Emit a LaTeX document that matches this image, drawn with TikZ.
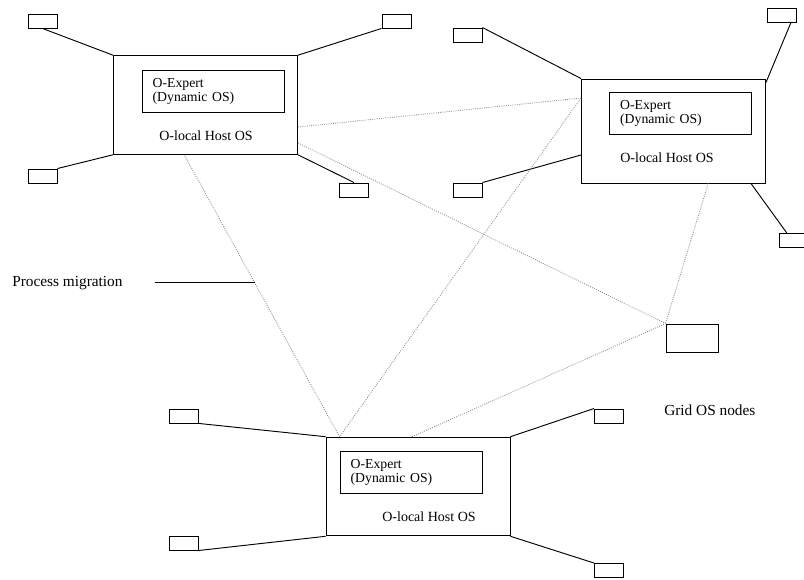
\documentclass[tikz,border=0pt]{standalone}
\usepackage{fontspec}
\setmainfont{Liberation Serif}
\usepackage{tikz}
\usetikzlibrary{calc, positioning}
\tikzset{
    host/.style={rectangle, draw=black, line width=0.7pt, minimum width=138pt, minimum height=74pt, inner sep=0pt},
    expert/.style={rectangle, draw=black, line width=0.7pt, minimum width=106.5pt, minimum height=31.5pt, inner xsep=8pt, text width=90.5pt, align=left, font=\fontsize{10.3}{10.5}\selectfont},
    leaf/.style={rectangle, draw=black, line width=0.7pt, minimum width=21.75pt, minimum height=10.5pt, inner sep=0pt},
    grid/.style={rectangle, draw=black, line width=0.7pt, minimum width=39pt, minimum height=21pt, inner sep=0pt},
    label/.style={font=\fontsize{10.5}{12}\selectfont, inner sep=0pt},
    note/.style={font=\fontsize{11.5}{13}\selectfont, inner sep=0pt, anchor=west},
    link/.style={line width=0.7pt, black},
    migrate/.style={densely dotted, line width=0.65pt, gray!90}
}
\begin{document}
\begin{tikzpicture}[x=0.75pt, y=-0.75pt]
    \useasboundingbox (0,0) rectangle (804,580);

    % Host nodes
    \node[host] (A) at (205.5,105) {};
    \node[host, minimum height=78pt] (B) at (673.5,131) {};
    \node[host] (C) at (418,486.5) {};

    % Experts inside the hosts
    \node[expert] (Aexp) at (213,91) {O-Expert\\(Dynamic OS)};
    \node[expert] (Bexp) at (680.5,113.5) {O-Expert\\(Dynamic OS)};
    \node[expert] (Cexp) at (411,472) {O-Expert\\(Dynamic OS)};
    \node[label] (Aos) at (206,136) {O-local Host OS};
    \node[label] (Bos) at (667,158) {O-local Host OS};
    \node[label] (Cos) at (429,517) {O-local Host OS};

    % Leaf nodes
    \node[leaf] (a1) at (42.5,21) {};
    \node[leaf] (a2) at (396.5,21) {};
    \node[leaf] (a3) at (42.5,176) {};
    \node[leaf] (a4) at (354,190) {};
    \node[leaf] (b1) at (467.5,35) {};
    \node[leaf] (b2) at (782,15) {};
    \node[leaf] (b3) at (467.5,190) {};
    \node[leaf] (b4) at (793.5,240.5) {};
    \node[leaf] (c1) at (184,416) {};
    \node[leaf] (c2) at (184,543) {};
    \node[leaf] (c3) at (609,416) {};
    \node[leaf] (c4) at (609,570.5) {};

    \node[grid] (G) at (692,338) {};

    % Leaf links
    \draw[link] (a1.south) -- (A.north west);
    \draw[link] (a2.south west) -- (A.north east);
    \draw[link] (a3.north east) -- (A.south west);
    \draw[link] (a4.north) -- (A.south east);
    \draw[link] (b1.north east) -- (B.north west);
    \draw[link] ([xshift=-4.5pt]b2.south east) -- ([yshift=-3pt]B.north east);
    \draw[link] (b3.north east) -- ([yshift=-18pt]B.west);
    \draw[link] ([xshift=-5pt]b4.north) -- ([xshift=-11.25pt]B.south east);
    \draw[link] (c1.south east) -- (C.north west);
    \draw[link] (c2.south east) -- (C.south west);
    \draw[link] (c3.north west) -- (C.north east);
    \draw[link] (c4.north west) -- (C.south east);

    % Migration paths
    \draw[migrate] ([yshift=-16.5pt]A.east) -- ([yshift=24.75pt]B.west);
    \draw[migrate] ([yshift=-28.5pt]A.east) -- (G.north west);
    \draw[migrate] ([xshift=-16pt]A.south) -- ([xshift=10.5pt]C.north west);
    \draw[migrate] ([yshift=24.75pt]B.west) -- ([xshift=10.5pt]C.north west);
    \draw[migrate] ([xshift=26pt]B.south) -- (G.north west);
    \draw[migrate] ([xshift=-4.5pt]C.north) -- (G.north west);

    % Labels
    \node[note] (pm) at (12,283) {Process migration};
    \coordinate (pmstart) at (155,282);
    \coordinate (pmend) at (255,282);
    \draw[link] (pmstart) -- (pmend);
    \node[note] (gridlbl) at (664,410) {Grid OS nodes};
\end{tikzpicture}
\end{document}
